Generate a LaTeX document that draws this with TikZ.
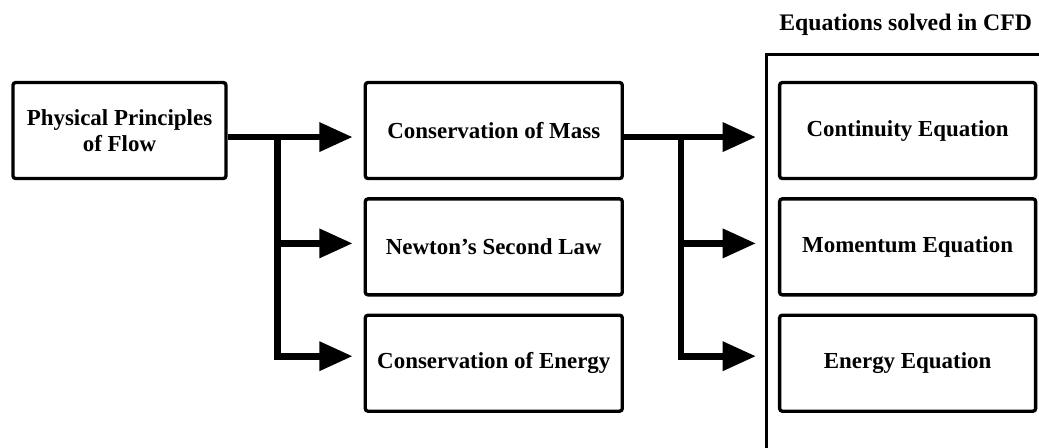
\documentclass[tikz,border=0pt]{standalone}
\usepackage{fontspec}
\setmainfont{Liberation Serif}
\usepackage{tikz}
\usetikzlibrary{positioning,calc,arrows.meta}
\tikzset{BOX/.style={rectangle,draw,line width=2.5pt,rounded corners=2pt,minimum width=192.75pt,minimum height=72pt,align=flush center,font=\bfseries\fontsize{17.2}{20}\selectfont}}
\tikzset{ARROW/.style={line width=5pt,-{Triangle[length=25pt,width=21pt]}}}
\tikzset{FRAME/.style={line width=2.25pt}}

\begin{document}
\begin{tikzpicture}

\useasboundingbox (0,0) rectangle (779.25pt,-336pt);

\node[BOX, minimum width=159.75pt] (n_ppf) at (89.6pt,-97.9pt) {Physical Principles\\of Flow};

\node[BOX, right=102pt of n_ppf] (n_mass) {Conservation of Mass};
\node[BOX, below=12.75pt of n_mass] (n_newton) {Newton’s Second Law};
\node[BOX, below=12.75pt of n_newton] (n_energy) {Conservation of Energy};

\node[BOX, minimum width=192pt, right=115.5pt of n_mass] (n_cont) {Continuity Equation};
\node[BOX, minimum width=192pt, below=12.75pt of n_cont] (n_mom) {Momentum Equation};
\node[BOX, minimum width=192pt, below=12.75pt of n_mom] (n_eneq) {Energy Equation};

% frame round the equations, cut by the page
\coordinate (c_frame_bl) at (574.5pt,-340pt);
\coordinate (c_frame_tr) at (785pt,-41.25pt);
\draw[FRAME] (c_frame_bl) |- (c_frame_tr);

\node[anchor=base, font=\bfseries\fontsize{17.8}{20}\selectfont] (n_title) at ($(n_cont.north)+(-1.5pt,37.5pt)$) {Equations solved in CFD};

% principles -> laws
\coordinate (c_split_a) at ($(n_ppf.east)+(37.5pt,-4.9pt)$);
\draw[ARROW, shorten >=8.25pt] ([yshift=-4.9pt]n_ppf.east) -- ([yshift=-4.9pt]n_mass.west);
\draw[ARROW, shorten >=8.25pt] ($(c_split_a|-n_newton)+(0,2.6pt)$) -- ([yshift=2.6pt]n_newton.west);
\draw[ARROW, shorten >=8.25pt] (c_split_a) |- ([yshift=5.25pt]n_energy.west);

% laws -> equations
\coordinate (c_split_b) at ($(n_mass.east)+(42.75pt,-4.9pt)$);
\draw[ARROW, shorten >=16.5pt] ([yshift=-4.9pt]n_mass.east) -- ([yshift=-4.9pt]n_cont.west);
\draw[ARROW, shorten >=16.5pt] ($(c_split_b|-n_mom)+(0,2.6pt)$) -- ([yshift=2.6pt]n_mom.west);
\draw[ARROW, shorten >=16.5pt] (c_split_b) |- ([yshift=5.25pt]n_eneq.west);

\end{tikzpicture}
\end{document}
